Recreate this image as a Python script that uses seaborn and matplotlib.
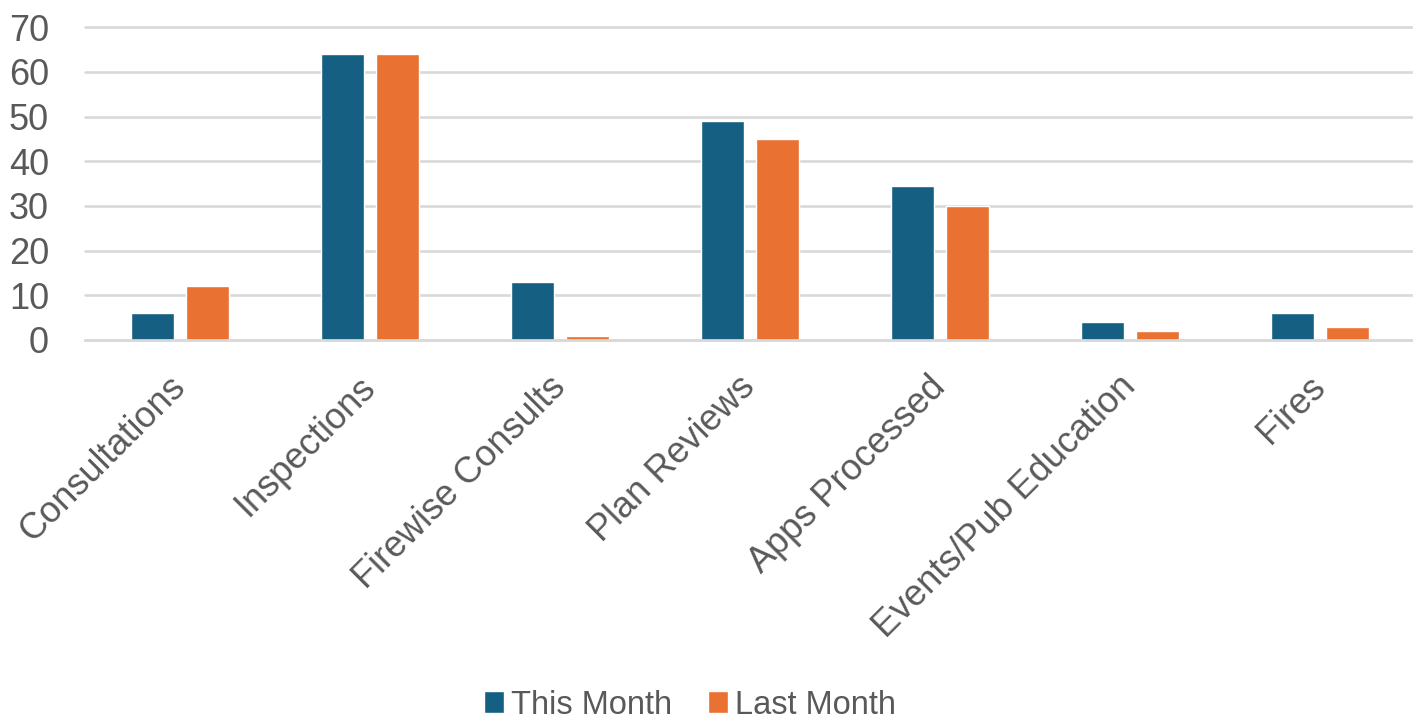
import matplotlib
matplotlib.use("Agg")
import matplotlib.pyplot as plt
import seaborn as sns
import pandas as pd

categories = ["Consultations", "Inspections", "Firewise Consults", "Plan Reviews",
              "Apps Processed", "Events/Pub Education", "Fires"]
this_month = [6, 64, 13, 49, 34.5, 4, 6]
last_month = [12, 64, 1, 45, 30, 2, 3]
series_names = ["This Month", "Last Month"]
colors = ["#156082", "#E97132"]
y_ticks = [0, 10, 20, 30, 40, 50, 60, 70]

df = pd.DataFrame({
    "category": categories * 2,
    "value": this_month + last_month,
    "series": [series_names[0]] * len(categories) + [series_names[1]] * len(categories),
})

sns.set_theme(style="white")
plt.rcParams["font.family"] = ["Liberation Sans", "DejaVu Sans"]

W, H = 1413, 718
fig = plt.figure(figsize=(W / 100, H / 100), dpi=100)
ax = fig.add_axes([85 / W, 1 - 340 / H, 1330 / W, (340 - 27.3) / H])

sns.barplot(data=df, x="category", y="value", hue="series", order=categories,
            hue_order=series_names, palette=colors, width=0.584, gap=0.22,
            saturation=1, ax=ax, legend=True)

ax.set_ylim(0, 70)
ax.set_xlim(-0.5, len(categories) - 0.5)
ax.set_yticks(y_ticks)
ax.set_xlabel("")
ax.set_ylabel("")
ax.set_axisbelow(True)
ax.yaxis.grid(True, color="#D9D9D9", linewidth=1.9)
for gl in ax.yaxis.get_gridlines():
    gl.set_clip_on(False)
for s in ["top", "right", "left"]:
    ax.spines[s].set_visible(False)
ax.spines["bottom"].set_color("#D9D9D9")
ax.spines["bottom"].set_linewidth(1.9)

txt_color = "#595959"
ax.tick_params(axis="y", length=0, pad=26, labelsize=26, labelcolor=txt_color)
ax.tick_params(axis="x", length=0, pad=30, labelsize=26, labelcolor=txt_color)
for lab in ax.get_xticklabels():
    lab.set_rotation(45)
    lab.set_ha("right")
    lab.set_va("center")
    lab.set_rotation_mode("anchor")

handles, labels = ax.get_legend_handles_labels()
ax.get_legend().remove()
leg = fig.legend(handles, labels, loc="center", bbox_to_anchor=(690 / W, 1 - 705 / H),
                 ncol=2, frameon=False, fontsize=23.5, handlelength=0.62, handleheight=0.62,
                 handletextpad=0.2, columnspacing=1.1, labelcolor=txt_color)

fig.savefig("out.png", dpi=100)
